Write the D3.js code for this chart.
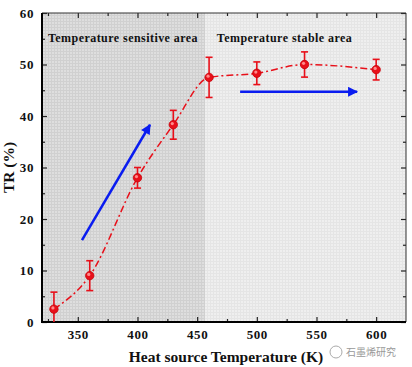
<!DOCTYPE html>
<html><head><meta charset="utf-8">
<script src="https://cdn.jsdelivr.net/npm/d3@7"></script>
<style>body{margin:0;background:#fff}svg{display:block}</style>
</head><body>
<script>
const temps = [330, 360, 400, 430, 460, 500, 540, 600];
const trValues = [2.5, 9.0, 28.0, 38.3, 47.5, 48.3, 50.0, 49.0];
const trErrors = [3.3, 2.9, 2.0, 2.8, 3.9, 2.2, 2.45, 2.0];
const xTicks = [350, 400, 450, 500, 550, 600];
const yTicks = [0, 10, 20, 30, 40, 50, 60];
const regionSplit = 457;
const regionLabels = ["Temperature sensitive area", "Temperature stable area"];
const regionLabelX = [325, 466.5];
const arrowStart = [[353.5, 15.9], [486, 44.7]];
const arrowEnd = [[410.5, 38.3], [584, 44.7]];

const W = 412, H = 367;
const m = {left: 42, right: 6, top: 13, bottom: 45};
const svg = d3.select("body").append("svg").attr("width", W).attr("height", H);
const x = d3.scaleLinear().domain([320, 625]).range([m.left, W - m.right]);
const y = d3.scaleLinear().domain([0, 60]).range([H - m.bottom, m.top]);
const font = "'Liberation Serif', 'Times New Roman', serif";

const defs = svg.append("defs");
function pat(id, bg, line) {
  const p = defs.append("pattern").attr("id", id).attr("width", 3).attr("height", 3).attr("patternUnits", "userSpaceOnUse");
  p.append("rect").attr("width", 3).attr("height", 3).attr("fill", bg);
  p.append("rect").attr("width", 3).attr("height", 1).attr("fill", line);
  p.append("rect").attr("width", 1).attr("height", 3).attr("fill", line);
}
pat("pL", "#dedede", "#d0d0d0");
pat("pR", "#efefef", "#e5e5e5");
defs.append("marker").attr("id", "ah").attr("viewBox", "0 0 10 10").attr("refX", 9).attr("refY", 5)
  .attr("markerWidth", 4.5).attr("markerHeight", 4).attr("orient", "auto").attr("markerUnits", "strokeWidth")
  .append("path").attr("d", "M0,0 L10,5 L0,10 Z").attr("fill", "#0a1cf0");

svg.append("rect").attr("x", x(320)).attr("y", y(60)).attr("width", x(regionSplit) - x(320)).attr("height", y(0) - y(60)).attr("fill", "url(#pL)");
svg.append("rect").attr("x", x(regionSplit)).attr("y", y(60)).attr("width", x(625) - x(regionSplit)).attr("height", y(0) - y(60)).attr("fill", "url(#pR)");

// region labels
svg.selectAll(".rl").data(regionLabels).enter().append("text")
  .attr("x", (d, i) => x(regionLabelX[i])).attr("y", y(54.3))
  .attr("font-family", font).attr("font-weight", "bold").attr("font-size", 12).attr("letter-spacing", 0.45).attr("fill", "#111")
  .text(d => d);

// axes
const tickLen = 5;
const minorX = d3.range(325, 625, 25).filter(v => !xTicks.includes(v));
const minorY = d3.range(5, 60, 10);
function styleLabels(g) {
  g.select(".domain").remove();
  g.selectAll("text").attr("font-family", font).attr("font-weight", "bold").attr("font-size", 13).attr("letter-spacing", 0.6).attr("fill", "#111");
}
svg.append("g").attr("transform", `translate(0,${y(0)})`)
  .call(d3.axisBottom(x).tickValues(xTicks).tickSizeInner(-tickLen).tickSizeOuter(0).tickPadding(8).tickFormat(d3.format("d")))
  .call(styleLabels);
svg.append("g").attr("transform", `translate(0,${y(0)})`)
  .call(d3.axisBottom(x).tickValues(minorX).tickSizeInner(-3).tickSizeOuter(0).tickFormat(""))
  .call(g => g.select(".domain").remove());
svg.append("g").attr("transform", `translate(0,${y(60)})`)
  .call(d3.axisTop(x).tickValues(xTicks).tickSizeInner(-tickLen).tickSizeOuter(0).tickFormat(""))
  .call(g => g.select(".domain").remove());
svg.append("g").attr("transform", `translate(0,${y(60)})`)
  .call(d3.axisTop(x).tickValues(minorX).tickSizeInner(-3).tickSizeOuter(0).tickFormat(""))
  .call(g => g.select(".domain").remove());
svg.append("g").attr("transform", `translate(${x(320)},0)`)
  .call(d3.axisLeft(y).tickValues(yTicks).tickSizeInner(-tickLen).tickSizeOuter(0).tickPadding(8).tickFormat(d3.format("d")))
  .call(styleLabels);
svg.append("g").attr("transform", `translate(${x(320)},0)`)
  .call(d3.axisLeft(y).tickValues(minorY).tickSizeInner(-3).tickSizeOuter(0).tickFormat(""))
  .call(g => g.select(".domain").remove());
svg.append("g").attr("transform", `translate(${x(625)},0)`)
  .call(d3.axisRight(y).tickValues(yTicks).tickSizeInner(-tickLen).tickSizeOuter(0).tickFormat(""))
  .call(g => g.select(".domain").remove());
svg.append("g").attr("transform", `translate(${x(625)},0)`)
  .call(d3.axisRight(y).tickValues(minorY).tickSizeInner(-3).tickSizeOuter(0).tickFormat(""))
  .call(g => g.select(".domain").remove());
svg.selectAll(".tick line").attr("stroke", "#222").attr("stroke-width", 1.2);

// frame
svg.append("line").attr("x1", x(320)).attr("x2", x(625)).attr("y1", y(60)).attr("y2", y(60)).attr("stroke", "#333").attr("stroke-width", 1);
svg.append("line").attr("x1", x(625)).attr("x2", x(625)).attr("y1", y(60)).attr("y2", y(0)).attr("stroke", "#333").attr("stroke-width", 1);
svg.append("line").attr("x1", x(320)).attr("x2", x(320)).attr("y1", y(60)).attr("y2", y(0) + 1).attr("stroke", "#000").attr("stroke-width", 2);
svg.append("line").attr("x1", x(320) - 1).attr("x2", x(625)).attr("y1", y(0)).attr("y2", y(0)).attr("stroke", "#000").attr("stroke-width", 2);

// arrows
svg.selectAll(".arr").data(arrowStart).enter().append("line")
  .attr("x1", d => x(d[0])).attr("y1", d => y(d[1]))
  .attr("x2", (d, i) => x(arrowEnd[i][0])).attr("y2", (d, i) => y(arrowEnd[i][1]))
  .attr("stroke", "#0a1cf0").attr("stroke-width", 2.5).attr("marker-end", "url(#ah)");

// data line
const pts = temps.map((t, i) => ({t, v: trValues[i], e: trErrors[i]}));
svg.append("path").datum(pts)
  .attr("d", d3.line().x(d => x(d.t)).y(d => y(d.v)).curve(d3.curveMonotoneX))
  .attr("fill", "none").attr("stroke", "#e8101a").attr("stroke-width", 1.5).attr("stroke-dasharray", "7,3,2,3");

// error bars
const eb = svg.append("g").attr("stroke", "#e8101a").attr("stroke-width", 1.6);
eb.selectAll(".v").data(pts).enter().append("line")
  .attr("x1", d => x(d.t)).attr("x2", d => x(d.t))
  .attr("y1", d => y(d.v + d.e)).attr("y2", d => y(Math.max(0, d.v - d.e)));
eb.selectAll(".ct").data(pts).enter().append("line")
  .attr("x1", d => x(d.t) - 3.5).attr("x2", d => x(d.t) + 3.5)
  .attr("y1", d => y(d.v + d.e)).attr("y2", d => y(d.v + d.e));
eb.selectAll(".cb").data(pts.filter(d => d.v - d.e > 0)).enter().append("line")
  .attr("x1", d => x(d.t) - 3.5).attr("x2", d => x(d.t) + 3.5)
  .attr("y1", d => y(d.v - d.e)).attr("y2", d => y(d.v - d.e));

// markers
svg.selectAll(".pt").data(pts).enter().append("circle")
  .attr("cx", d => x(d.t)).attr("cy", d => y(d.v)).attr("r", 4.2)
  .attr("fill", "#e8101a").attr("stroke", "#c80008").attr("stroke-width", 0.8);
svg.selectAll(".hl").data(pts).enter().append("circle")
  .attr("cx", d => x(d.t) - 1).attr("cy", d => y(d.v) - 1.2).attr("r", 1.6)
  .attr("fill", "#ff8a8a");

// axis titles
svg.append("text").attr("x", (x(320) + x(625)) / 2 + 2).attr("y", 362).attr("text-anchor", "middle")
  .attr("font-family", font).attr("font-weight", "bold").attr("font-size", 15.5).attr("fill", "#111")
  .text("Heat source Temperature (K)");
svg.append("text").attr("transform", `translate(14,${(y(0) + y(60)) / 2}) rotate(-90)`).attr("text-anchor", "middle")
  .attr("font-family", font).attr("font-weight", "bold").attr("font-size", 15.5).attr("fill", "#111")
  .text("TR (%)");

// watermark
const wm = svg.append("g").attr("transform", "translate(336,356)");
wm.append("circle").attr("cx", 0).attr("cy", -4).attr("r", 6).attr("fill", "none").attr("stroke", "#aaa").attr("stroke-width", 1);
wm.append("text").attr("x", 10).attr("y", 0).attr("font-family", "'Noto Sans CJK SC'").attr("font-size", 10).attr("fill", "#999").text("石墨烯研究");
</script>
</body></html>
